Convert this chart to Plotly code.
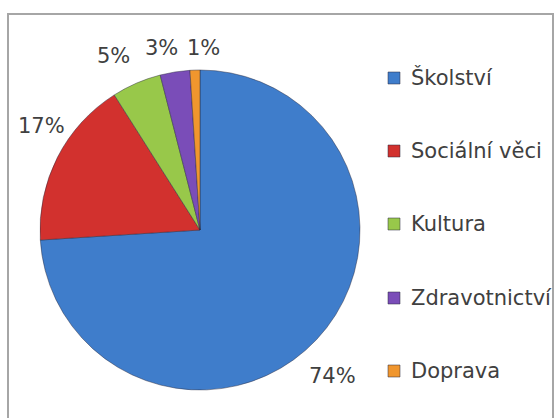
import math
import plotly.graph_objects as go

# Budget shares by sector
categories = ["Školství", "Sociální věci", "Kultura", "Zdravotnictví", "Doprava"]
shares = [74, 17, 5, 3, 1]
colors = ["#3F7DCB", "#D2312E", "#98C84A", "#7A4DB8", "#F0962E"]

W, H = 555, 418
FONT = "DejaVu Sans"
TEXT_COLOR = "#404040"

# pie geometry in pixels (centre and radius)
CX, CY, R = 200, 230, 160
# nudge of each percentage label away from the rim point at the slice's mid-angle
label_nudge = [(16, 36), (-16, -31), (-23, -27), (-13, -24), (9, -22)]


def px(x):
    return x / W


def py(y):
    return 1 - y / H


fig = go.Figure()

fig.add_trace(go.Pie(
    labels=categories,
    values=shares,
    sort=False,
    direction="clockwise",
    rotation=0,
    marker=dict(colors=colors, line=dict(color="rgba(40,40,60,0.45)", width=1)),
    textinfo="none",
    showlegend=False,
    hoverinfo="label+percent",
    domain=dict(x=[px(CX - R), px(CX + R)], y=[py(CY + R), py(CY - R)]),
))

shapes = [
    # chart frame
    dict(type="rect", xref="paper", yref="paper",
         x0=px(8), x1=px(553), y0=-0.1, y1=py(14),
         line=dict(color="#A6A6A6", width=2), fillcolor="rgba(0,0,0,0)", layer="below"),
]
annotations = []

# Percentage labels placed around the rim, clockwise from 12 o'clock
total = sum(shares)
cum = 0.0
for v, (dx, dy) in zip(shares, label_nudge):
    mid = (cum + v / 2) / total * 2 * math.pi
    cum += v
    ex = CX + R * math.sin(mid)
    ey = CY - R * math.cos(mid)
    annotations.append(dict(xref="paper", yref="paper", x=px(ex + dx), y=py(ey + dy),
                            xanchor="center", yanchor="middle", showarrow=False,
                            text=f"{v / total * 100:.0f}%",
                            font=dict(family=FONT, size=21, color=TEXT_COLOR)))

# Legend: colour square + category name per row
row_centers = [78, 151, 224, 298, 371]
for name, col, yc in zip(categories, colors, row_centers):
    shapes.append(dict(type="rect", xref="paper", yref="paper",
                       x0=px(388), x1=px(400), y0=py(yc + 6), y1=py(yc - 6),
                       fillcolor=col, line=dict(color="rgba(40,40,60,0.5)", width=1)))
    annotations.append(dict(xref="paper", yref="paper", x=px(409), y=py(yc),
                            xanchor="left", yanchor="middle", showarrow=False,
                            text=name, font=dict(family=FONT, size=21, color=TEXT_COLOR)))

fig.update_layout(
    width=W, height=H,
    margin=dict(l=0, r=0, t=0, b=0),
    paper_bgcolor="white",
    plot_bgcolor="white",
    shapes=shapes,
    annotations=annotations,
)

fig.write_html("out.html")
